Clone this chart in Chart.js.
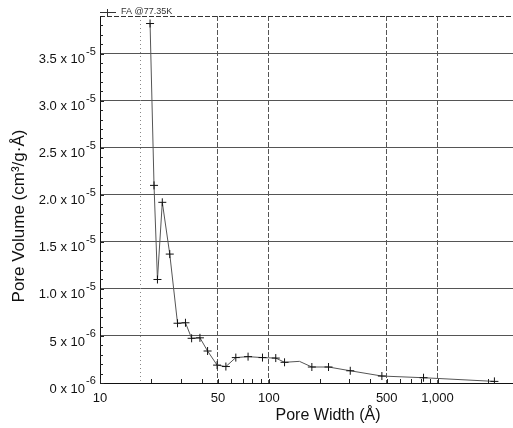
<!DOCTYPE html>
<html>
<head>
<meta charset="utf-8">
<script src="https://cdn.jsdelivr.net/npm/chart.js@4"></script>
<style>
  html, body { margin: 0; padding: 0; background: #fff; overflow: hidden; }
  #wrap { width: 513px; height: 428px; }
</style>
</head>
<body>
<div id="wrap"><canvas id="psd"></canvas></div>
<script>
// pore width (Å) and differential pore volume (cm³/g·Å)
const poreWidth = [19.8, 20.9, 21.9, 23.4, 25.9, 28.8, 32.1, 34.9, 39.1, 43.4, 49.4, 55.7,
                   63.8, 75.4, 91.8, 110, 124, 152, 180, 226, 304, 468, 826, 2173];
const poreVolume = [38.2e-6, 21.0e-6, 11.0e-6, 19.2e-6, 13.7e-6, 6.35e-6, 6.4e-6, 4.75e-6,
                    4.8e-6, 3.4e-6, 1.9e-6, 1.75e-6, 2.7e-6, 2.8e-6, 2.7e-6, 2.65e-6, 2.2e-6,
                    2.3e-6, 1.7e-6, 1.7e-6, 1.3e-6, 0.74e-6, 0.56e-6, 0.17e-6];
const noMarker = [17]; // the bump near 150 Å has no cross

const seriesLabel = "FA @77.35K";
const xTitle = "Pore Width (Å)";
const yTitle = "Pore Volume (cm³/g·Å)";

const xMajor = [10, 50, 100, 500, 1000];
const xMajorLabels = ["10", "50", "100", "500", "1,000"];
const xMinor = [20, 30, 40, 60, 70, 80, 90, 200, 300, 400, 600, 700, 800, 900, 2000];
const yTickLabels = ["0 x 10", "5 x 10", "1.0 x 10", "1.5 x 10", "2.0 x 10",
                     "2.5 x 10", "3.0 x 10", "3.5 x 10"];
const yTickExps = ["-6", "-6", "-5", "-5", "-5", "-5", "-5", "-5"];
const yStep = 5e-6;
const yMinorStep = 1e-6;
const refWidth = 17.3; // dotted reference line

const FONT = "'Liberation Sans', Arial, sans-serif";

function isYMajor(v) {
    return Math.round(v / yMinorStep) % 5 === 0;
}

const decor = {
    id: "decor",
    beforeDatasetsDraw(chart) {
        const { ctx, chartArea: a, scales: { x } } = chart;
        ctx.save();
        // dotted line
        const px = Math.round(x.getPixelForValue(refWidth)) + 0.5;
        ctx.strokeStyle = "#888";
        ctx.lineWidth = 1;
        ctx.setLineDash([1, 3]);
        ctx.beginPath();
        ctx.moveTo(px, a.top);
        ctx.lineTo(px, a.bottom);
        ctx.stroke();
        // dashed top border
        ctx.strokeStyle = "#333";
        ctx.setLineDash([5, 2]);
        ctx.beginPath();
        ctx.moveTo(a.left, a.top + 0.5);
        ctx.lineTo(a.right, a.top + 0.5);
        ctx.stroke();
        ctx.restore();
    },
    afterDraw(chart) {
        const { ctx, chartArea: a, scales: { x, y } } = chart;
        ctx.save();
        ctx.strokeStyle = "#222";
        ctx.lineWidth = 1;
        // inner tick marks
        ctx.beginPath();
        x.ticks.forEach(t => {
            const px = Math.round(x.getPixelForValue(t.value)) + 0.5;
            ctx.moveTo(px, a.bottom);
            ctx.lineTo(px, a.bottom - 4);
        });
        y.ticks.forEach(t => {
            const py = Math.round(y.getPixelForValue(t.value)) + 0.5;
            ctx.moveTo(a.left, py);
            ctx.lineTo(a.left + (isYMajor(t.value) ? 4 : 3), py);
        });
        ctx.stroke();

        // exponents of the y tick labels
        ctx.fillStyle = "#111";
        ctx.textAlign = "left";
        ctx.textBaseline = "middle";
        ctx.font = "11px " + FONT;
        y.ticks.forEach(t => {
            if (!isYMajor(t.value)) return;
            const i = Math.round(t.value / yStep);
            ctx.fillText(yTickExps[i], a.left - 14, y.getPixelForValue(t.value) - 2);
        });

        // axis titles
        ctx.textAlign = "center";
        ctx.font = "16px " + FONT;
        ctx.fillText(xTitle, 328, 416);
        ctx.save();
        ctx.translate(19, 216);
        ctx.rotate(-Math.PI / 2);
        ctx.font = "17px " + FONT;
        ctx.fillText(yTitle, 0, 0);
        ctx.restore();

        // legend
        ctx.strokeStyle = "#333";
        ctx.beginPath();
        ctx.moveTo(100, 12.5);
        ctx.lineTo(116, 12.5);
        ctx.moveTo(107.5, 9);
        ctx.lineTo(107.5, 16);
        ctx.stroke();
        ctx.fillStyle = "#333";
        ctx.textAlign = "left";
        ctx.font = "9px " + FONT;
        ctx.fillText(chart.data.datasets[0].label, 121, 12);
        ctx.restore();
    }
};

new Chart(document.getElementById("psd"), {
    type: "line",
    data: {
        datasets: [{
            label: seriesLabel,
            data: poreWidth.map((w, i) => ({ x: w, y: poreVolume[i] })),
            borderColor: "#555",
            borderWidth: 1,
            pointStyle: "cross",
            pointRadius: ctx => noMarker.includes(ctx.dataIndex) ? 0 : 4,
            pointBorderColor: "#111",
            pointBorderWidth: 1,
            tension: 0,
            fill: false
        }]
    },
    options: {
        responsive: true,
        maintainAspectRatio: false,
        animation: false,
        layout: { autoPadding: false, padding: { top: 16, right: 0, left: 0, bottom: 0 } },
        plugins: {
            legend: { display: false },
            tooltip: { enabled: false }
        },
        scales: {
            x: {
                type: "logarithmic",
                min: 10,
                max: 2800,
                afterBuildTicks: s => {
                    s.ticks = xMajor.concat(xMinor).sort((a, b) => a - b).map(v => ({ value: v }));
                },
                afterFit: s => {
                    s.height = 45;
                    s.paddingLeft = 0;
                    s.paddingRight = 0;
                },
                ticks: {
                    autoSkip: false,
                    maxRotation: 0,
                    padding: 8,
                    color: "#111",
                    font: { family: FONT, size: 13 },
                    callback: v => {
                        const i = xMajor.indexOf(v);
                        return i >= 0 ? xMajorLabels[i] : "";
                    }
                },
                grid: {
                    drawTicks: false,
                    color: c => (c.tick && xMajor.includes(c.tick.value) && c.tick.value !== 10) ? "#555" : "rgba(0,0,0,0)",
                    lineWidth: 1
                },
                border: { display: true, color: "#111", width: 1, dash: [5, 2] }
            },
            y: {
                type: "linear",
                min: 0,
                max: 3.9e-5,
                afterBuildTicks: s => {
                    const t = [];
                    for (let i = 0; i <= 39; i++) t.push({ value: i * yMinorStep });
                    s.ticks = t;
                },
                afterFit: s => {
                    s.width = 100;
                    s.paddingTop = 0;
                    s.paddingBottom = 0;
                },
                ticks: {
                    autoSkip: false,
                    padding: 15,
                    labelOffset: 6,
                    color: "#111",
                    font: { family: FONT, size: 13 },
                    callback: v => isYMajor(v) ? yTickLabels[Math.round(v / yStep)] : ""
                },
                grid: {
                    drawTicks: false,
                    color: c => (c.tick && isYMajor(c.tick.value) && c.tick.value > 0) ? "#555" : "rgba(0,0,0,0)",
                    lineWidth: 1
                },
                border: { display: true, color: "#111", width: 1 }
            }
        }
    },
    plugins: [decor]
});
</script>
</body>
</html>
